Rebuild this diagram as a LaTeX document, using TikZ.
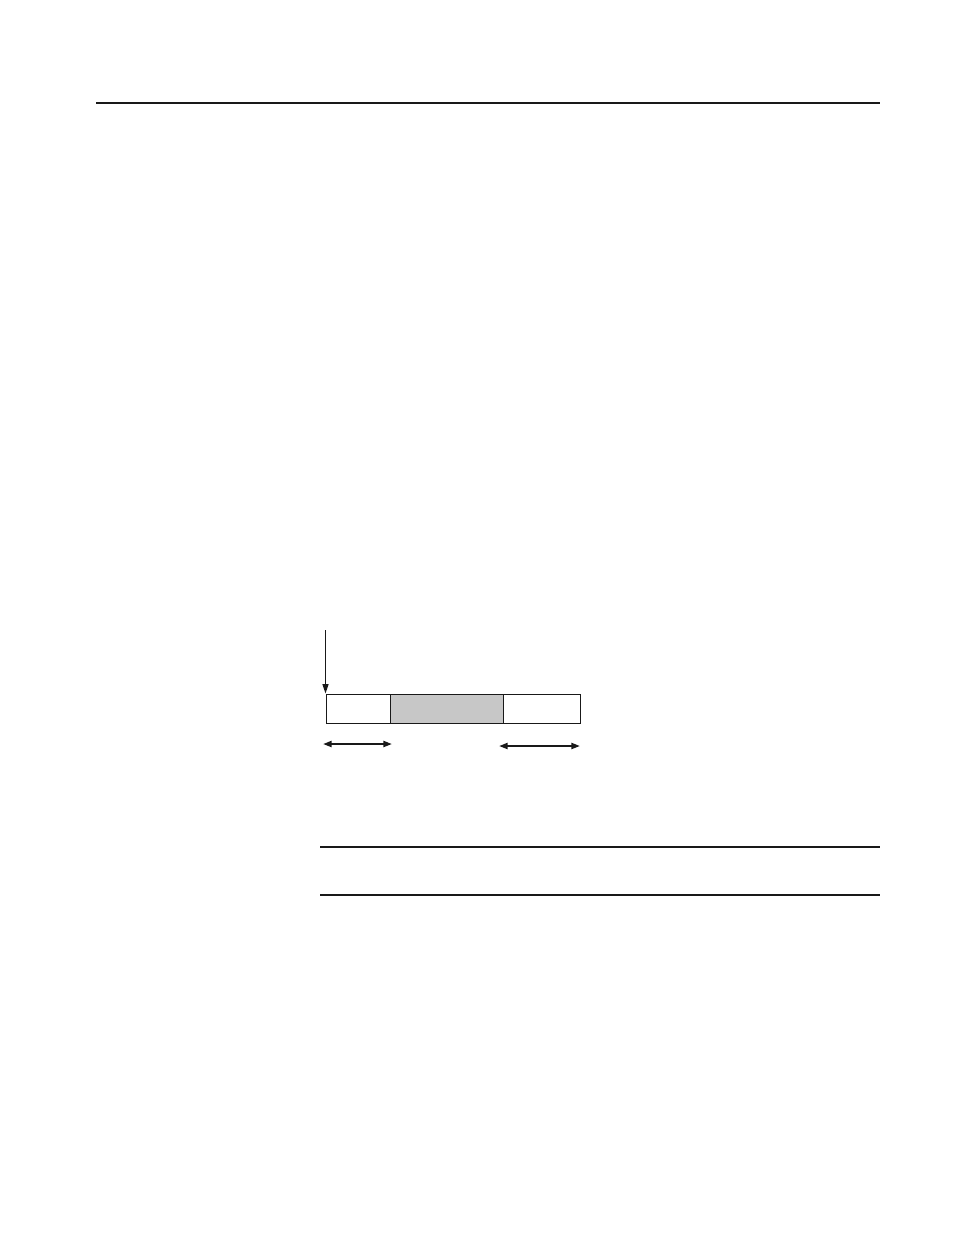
\documentclass[tikz,border=0pt]{standalone}
\usetikzlibrary{arrows.meta}
\begin{document}
\begin{tikzpicture}[x=0.75pt,y=-0.75pt,
  rule/.style={line width=0.9pt,draw=black!90},
  cell/.style={draw=black!90,line width=0.75pt,inner sep=0pt,anchor=north west,minimum height=21.75pt},
  ptr/.style={line width=0.9pt,draw=black!90,-{Triangle[length=7pt,width=4.5pt]}},
  span/.style={line width=1.5pt,draw=black!90,{Triangle[length=6.5pt,width=4.5pt]}-{Triangle[length=6.5pt,width=4.5pt]}}]
\useasboundingbox (0,0) rectangle (954,1235);
\coordinate (t1) at (96,103);
\coordinate (t2) at (880,103);
\draw[rule] (t1) -- (t2);
\node[cell,minimum width=48pt] (c1) at (325.5,693.5) {};
\node[cell,minimum width=84.75pt,fill=black!22] (c2) at (389.5,693.5) {};
\node[cell,minimum width=57.75pt] (c3) at (502.5,693.5) {};
\coordinate (p0) at (325.5,630);
\draw[ptr] (p0) -- (c1.north west);
\coordinate (a1) at (323,744);
\coordinate (a2) at (392,744);
\draw[span] (a1) -- (a2);
\coordinate (b1) at (499,746);
\coordinate (b2) at (580,746);
\draw[span] (b1) -- (b2);
\coordinate (r1) at (320,847);
\coordinate (r2) at (880,847);
\draw[rule] (r1) -- (r2);
\coordinate (s1) at (320,895);
\coordinate (s2) at (880,895);
\draw[rule] (s1) -- (s2);
\end{tikzpicture}
\end{document}
